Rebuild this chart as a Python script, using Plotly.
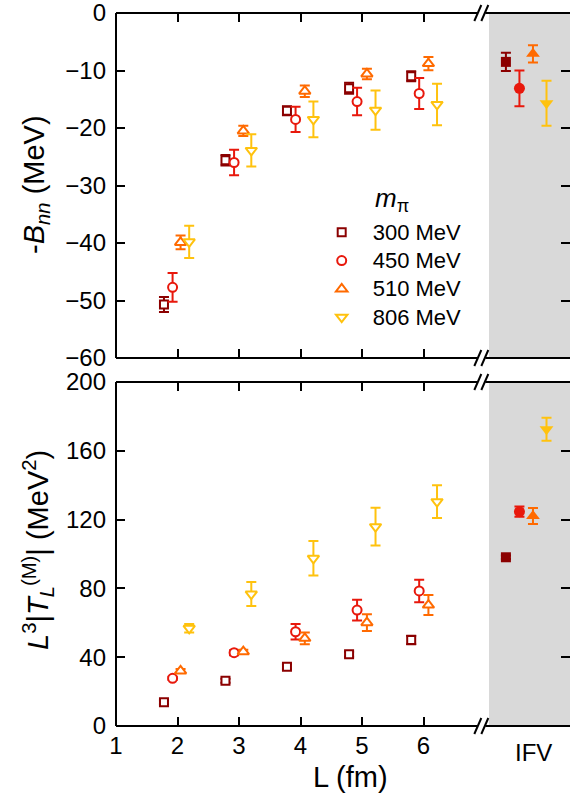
import plotly.graph_objects as go

# ---------------- data ----------------
series_names = ["300 MeV", "450 MeV", "510 MeV", "806 MeV"]
series_colors = ["#8B0000", "#E8180C", "#FF6A00", "#FFC20E"]

# plotted L positions (fm) of the finite-volume points (offset per series)
L_300 = [1.78, 2.78, 3.78, 4.79, 5.80]
L_450 = [1.92, 2.92, 3.92, 4.92, 5.93]
L_510 = [2.05, 3.07, 4.07, 5.08, 6.08]
L_806 = [2.19, 3.20, 4.21, 5.22, 6.22]

# -B_nn (MeV)
B_300 = [-50.7, -25.6, -17.0, -13.1, -11.0]
B_300_err = [1.3, 0.9, 0.8, 0.95, 0.85]
B_450 = [-47.7, -26.0, -18.5, -15.4, -14.0]
B_450_err = [2.5, 2.2, 2.2, 2.4, 2.7]
B_510 = [-39.9, -20.5, -13.6, -10.6, -8.8]
B_510_err = [1.2, 0.9, 1.0, 0.9, 1.15]
B_806 = [-39.8, -23.9, -18.5, -16.9, -15.9]
B_806_err = [2.8, 2.8, 3.1, 3.4, 3.6]

# L^3 |T_L^(M)| (MeV^2)
T_300 = [13.8, 26.3, 34.5, 41.7, 50.0]
T_300_err = [1.2, 1.2, 1.5, 1.5, 2.5]
T_450 = [27.7, 42.6, 54.8, 67.4, 78.5]
T_450_err = [1.0, 1.5, 4.5, 6.0, 6.6]
T_510 = [32.0, 43.2, 51.0, 60.1, 70.3]
T_510_err = [1.2, 1.2, 3.4, 4.8, 5.8]
T_806 = [56.8, 76.7, 97.5, 115.9, 130.4]
T_806_err = [2.5, 7.0, 10.0, 11.0, 9.5]

# infinite-volume (IFV) results, one per series
IFV_pos = [7.34, 7.56, 7.78, 8.00]
B_ifv = [-8.5, -13.1, -7.1, -15.7]
B_ifv_err = [1.6, 3.1, 1.5, 3.9]
T_ifv = [98.1, 124.6, 122.1, 172.5]
T_ifv_err = [1.0, 3.0, 4.6, 6.7]

x_tick_vals = [1, 2, 3, 4, 5, 6]
x_tick_text = ["1", "2", "3", "4", "5", "6"]
yB_ticks = [0, -10, -20, -30, -40, -50, -60]
yT_ticks = [0, 40, 80, 120, 160, 200]
ifv_label = "IFV"

# ---------------- layout constants ----------------
W, H = 570, 803
ML, MR, MT, MB = 116, 0, 13, 77
PXU = 61.5                     # pixels per fm
XMAX = 1 + (W - ML - MR) / PXU
BRK = 6.94                     # axis break position
GRAY0 = 7.065
FONT = "Liberation Sans, Arial, sans-serif"
TICKFONT = 24
TITLEFONT = 29
LEGFONT = 19.5

open_sym = ["square", "circle", "triangle-up", "triangle-down"]
open_size = [8, 9, 10, 10]
fill_size = [10, 11, 12, 12]

L_all = [L_300, L_450, L_510, L_806]
B_all = [B_300, B_450, B_510, B_806]
Be_all = [B_300_err, B_450_err, B_510_err, B_806_err]
T_all = [T_300, T_450, T_510, T_806]
Te_all = [T_300_err, T_450_err, T_510_err, T_806_err]

fig = go.Figure()

for i in range(4):
    c = series_colors[i]
    # top panel, finite volume
    fig.add_trace(go.Scatter(
        x=L_all[i], y=B_all[i], mode="markers",
        name='<span style="font-size:22px">' + series_names[i] + "</span>",
        xaxis="x2", yaxis="y2", showlegend=True, legendrank=i,
        marker=dict(symbol=open_sym[i], size=open_size[i], color="white",
                    line=dict(color=c, width=2)),
        error_y=dict(type="data", array=Be_all[i], color=c, thickness=2, width=5),
    ))
    # bottom panel, finite volume
    fig.add_trace(go.Scatter(
        x=L_all[i], y=T_all[i], mode="markers", name=series_names[i],
        xaxis="x", yaxis="y", showlegend=False,
        marker=dict(symbol=open_sym[i], size=open_size[i], color="white",
                    line=dict(color=c, width=2)),
        error_y=dict(type="data", array=Te_all[i], color=c, thickness=2, width=5),
    ))
    # IFV points
    fig.add_trace(go.Scatter(
        x=[IFV_pos[i]], y=[B_ifv[i]], mode="markers", showlegend=False,
        xaxis="x2", yaxis="y2",
        marker=dict(symbol=open_sym[i], size=fill_size[i], color=c, line=dict(width=0)),
        error_y=dict(type="data", array=[B_ifv_err[i]], color=c, thickness=2, width=5),
    ))
    fig.add_trace(go.Scatter(
        x=[IFV_pos[i]], y=[T_ifv[i]], mode="markers", showlegend=False,
        xaxis="x", yaxis="y",
        marker=dict(symbol=open_sym[i], size=fill_size[i], color=c, line=dict(width=0)),
        error_y=dict(type="data", array=[T_ifv_err[i]], color=c, thickness=2, width=5),
    ))

plot_h = H - MT - MB
bot_dom = [0, (726 - 382) / plot_h]
top_dom = [(726 - 358) / plot_h, 1]

xax = dict(range=[1, XMAX], showline=False, ticks="inside", ticklen=9, tickwidth=2,
           tickcolor="black", mirror="ticks", showgrid=False, zeroline=False,
           tickvals=x_tick_vals, ticktext=x_tick_text, ticklabelstandoff=3,
           ticklabeloverflow="allow",
           tickfont=dict(family=FONT, size=TICKFONT, color="black"))
yax = dict(showline=False, ticks="inside", ticklen=9, tickwidth=2, tickcolor="black",
           mirror="ticks", showgrid=False, zeroline=False, ticklabelstandoff=9,
           ticklabeloverflow="allow",
           tickfont=dict(family=FONT, size=TICKFONT, color="black"))

shapes = []
# gray IFV background
for yr in ["y domain", "y2 domain"]:
    shapes.append(dict(type="rect", xref="x", yref=yr, x0=GRAY0, x1=XMAX + 0.2, y0=0, y1=1,
                       fillcolor="#D9D9D9", line=dict(width=0), layer="below"))
# axis lines with break
gap = 4 / PXU
for yr in ["y domain", "y2 domain"]:
    for yy in [0, 1]:
        shapes.append(dict(type="line", xref="x", yref=yr, x0=1, x1=BRK - gap, y0=yy, y1=yy,
                           line=dict(color="black", width=2)))
        shapes.append(dict(type="line", xref="x", yref=yr, x0=BRK + gap, x1=XMAX + 0.2, y0=yy, y1=yy,
                           line=dict(color="black", width=2)))
        for off in [-3.5, 3.5]:
            shapes.append(dict(type="line", xref="x", yref=yr, xsizemode="pixel", ysizemode="pixel",
                               xanchor=BRK, yanchor=yy, x0=off - 3.5, x1=off + 3.5, y0=-8, y1=8,
                               line=dict(color="black", width=2)))
    shapes.append(dict(type="line", xref="x domain", yref=yr, x0=0, x1=0, y0=0, y1=1,
                       line=dict(color="black", width=2)))

annotations = [
    dict(text=ifv_label, xref="x", yref="paper", x=7.79, y=0, yanchor="top", yshift=-11,
         showarrow=False, font=dict(family=FONT, size=TICKFONT, color="black")),
    dict(text="L (fm)", xref="paper", yref="paper", x=(350 - ML) / (W - ML), y=(726 - 777) / plot_h,
         xanchor="center", yanchor="middle", showarrow=False,
         font=dict(family=FONT, size=TITLEFONT, color="black")),
    dict(text="-<i>B</i><sub><i>nn</i></sub> (MeV)", xref="paper", yref="paper",
         x=(36 - ML) / (W - ML), y=(726 - 185) / plot_h, textangle=-90,
         xanchor="center", yanchor="middle", showarrow=False,
         font=dict(family=FONT, size=TITLEFONT, color="black")),
    dict(text="<i>L</i><sup>3</sup>|<i>T</i><sub><i>L</i></sub><sup>(M)</sup>| (MeV<sup>2</sup>)",
         xref="paper", yref="paper",
         x=(38 - ML) / (W - ML), y=(726 - 550) / plot_h, textangle=-90,
         xanchor="center", yanchor="middle", showarrow=False,
         font=dict(family=FONT, size=TITLEFONT, color="black")),
    dict(text="<i>m</i><sub>π</sub>", xref="paper", yref="paper",
         x=(373 - ML) / (W - ML), y=(726 - 200) / plot_h, xanchor="left", yanchor="middle",
         showarrow=False, font=dict(family=FONT, size=26, color="black")),
]

fig.update_layout(
    width=W, height=H,
    margin=dict(l=ML, r=MR, t=MT, b=MB),
    paper_bgcolor="white", plot_bgcolor="white",
    font=dict(family=FONT, color="black"),
    xaxis=dict(**xax, anchor="y", showticklabels=True),
    xaxis2=dict(**xax, anchor="y2", matches="x", showticklabels=False),
    yaxis=dict(**yax, domain=bot_dom, range=[0, 200], tickvals=yT_ticks, anchor="x"),
    yaxis2=dict(**yax, domain=top_dom, range=[-60, 0], tickvals=yB_ticks, anchor="x2"),
    shapes=shapes,
    annotations=annotations,
    showlegend=True,
    legend=dict(x=(310.7 - ML) / (W - ML), y=(726 - 213) / plot_h, xanchor="left", yanchor="top",
                bgcolor="rgba(0,0,0,0)", itemwidth=52, itemsizing="trace",
                font=dict(family=FONT, size=LEGFONT, color="black"), tracegroupgap=0),
)

fig.write_html("out.html")
